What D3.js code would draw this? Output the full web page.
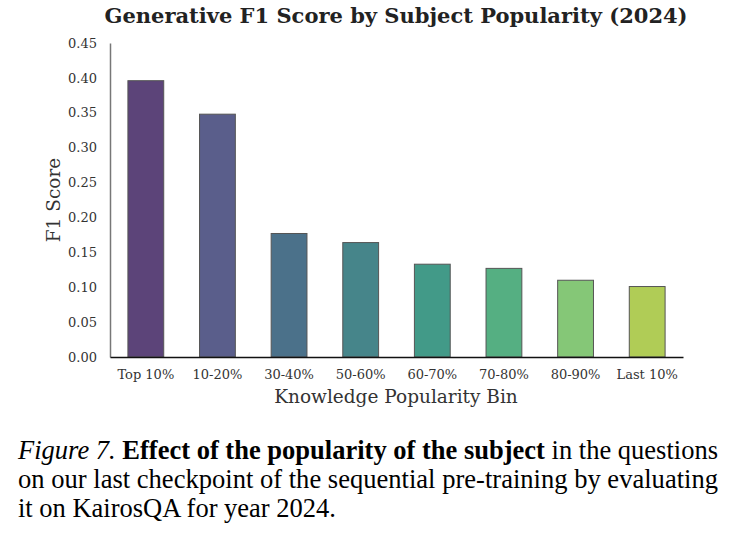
<!DOCTYPE html>
<html>
<head>
<meta charset="utf-8">
<script src="https://cdn.jsdelivr.net/npm/d3@7"></script>
<style>
  html, body { margin: 0; padding: 0; background: #fff; }
  svg { display: block; }
</style>
</head>
<body>
<svg id="chart" width="735" height="541"></svg>
<script>
const categories = ["Top 10%", "10-20%", "30-40%", "50-60%", "60-70%", "70-80%", "80-90%", "Last 10%"];
const f1Scores = [0.396, 0.348, 0.177, 0.164, 0.133, 0.127, 0.110, 0.101];
const barColors = ["#5c4479", "#5a5e8b", "#4b718a", "#46858a", "#429a88", "#55af82", "#85c777", "#b0cc56"];
const yTicks = [0, 0.05, 0.10, 0.15, 0.20, 0.25, 0.30, 0.35, 0.40, 0.45];

const svg = d3.select("#chart");
const serif = "'DejaVu Serif', serif";

const x = d3.scaleBand().domain(categories).range([110, 683]).paddingInner(0.5).paddingOuter(0.25);
const y = d3.scaleLinear().domain([0, 0.45]).range([357, 43]);

// Title
svg.append("text")
  .attr("x", 396).attr("y", 23)
  .attr("text-anchor", "middle")
  .attr("font-family", serif).attr("font-weight", "bold").attr("font-size", 21)
  .attr("fill", "#222")
  .text("Generative F1 Score by Subject Popularity (2024)");

// Bars
svg.append("g").selectAll("rect")
  .data(categories)
  .join("rect")
  .attr("x", d => x(d))
  .attr("y", (d, i) => y(f1Scores[i]))
  .attr("width", x.bandwidth())
  .attr("height", (d, i) => y(0) - y(f1Scores[i]))
  .attr("fill", (d, i) => barColors[i])
  .attr("stroke", "#555")
  .attr("stroke-width", 1);

// Y axis
const yAxis = svg.append("g").attr("transform", "translate(110,0)")
  .call(d3.axisLeft(y).tickValues(yTicks).tickFormat(d3.format(".2f")).tickSize(0).tickPadding(13));
yAxis.select(".domain").attr("stroke", "#777").attr("stroke-width", 1.5);
yAxis.selectAll("text").attr("font-family", serif).attr("font-size", 13).attr("fill", "#333");

// X axis
const xAxis = svg.append("g").attr("transform", "translate(0,357)")
  .call(d3.axisBottom(x).tickSize(0).tickPadding(13));
xAxis.select(".domain").attr("stroke", "#111").attr("stroke-width", 1.5);
xAxis.selectAll("text").attr("font-family", serif).attr("font-size", 13).attr("fill", "#333");

// Axis labels
svg.append("text")
  .attr("x", 396).attr("y", 403)
  .attr("text-anchor", "middle")
  .attr("font-family", serif).attr("font-size", 18.5).attr("fill", "#333")
  .text("Knowledge Popularity Bin");

svg.append("text")
  .attr("transform", "translate(60,200) rotate(-90)")
  .attr("text-anchor", "middle")
  .attr("font-family", serif).attr("font-size", 18.5).attr("fill", "#333")
  .text("F1 Score");

// Caption
const capFont = "'Liberation Serif', 'Times New Roman', serif";
const cap = svg.append("g").attr("font-family", capFont).attr("font-size", 26.5).attr("fill", "#000");
const l1 = cap.append("text").attr("x", 18).attr("y", 459).attr("textLength", 700).attr("lengthAdjust", "spacingAndGlyphs");
l1.append("tspan").attr("font-style", "italic").text("Figure 7.");
l1.append("tspan").text(" ");
l1.append("tspan").attr("font-weight", "bold").text("Effect of the popularity of the subject");
l1.append("tspan").text(" in the questions");
cap.append("text").attr("x", 18).attr("y", 488).attr("textLength", 700).attr("lengthAdjust", "spacingAndGlyphs")
  .text("on our last checkpoint of the sequential pre-training by evaluating");
cap.append("text").attr("x", 18).attr("y", 517)
  .text("it on KairosQA for year 2024.");
</script>
</body>
</html>
